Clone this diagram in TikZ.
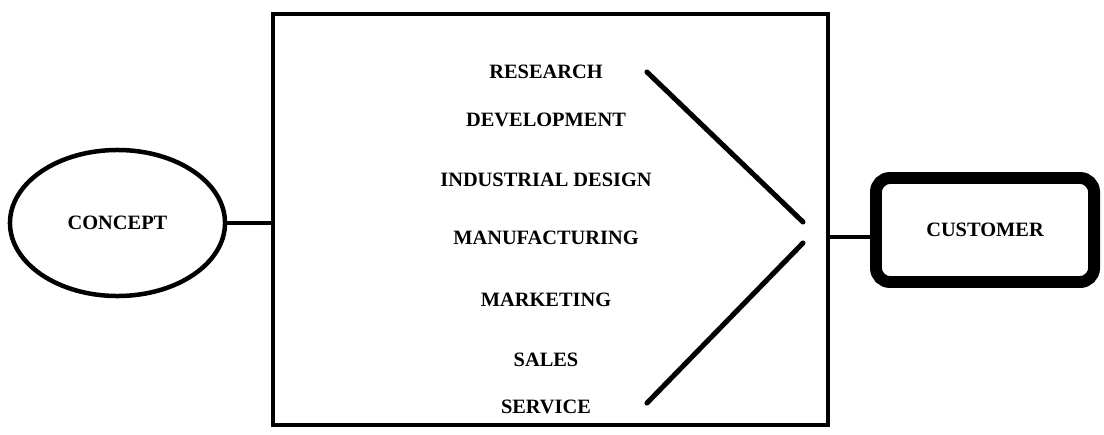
\documentclass[tikz,border=0pt]{standalone}
\usepackage{fontspec}
\setmainfont{Liberation Serif}
\usetikzlibrary{shapes.geometric,positioning}
\tikzset{
  stagetext/.style={font=\fontsize{14.5}{17}\selectfont\bfseries,inner sep=0pt},
  link/.style={line width=2.8pt},
  slant/.style={line width=3.6pt,line cap=round},
}

\begin{document}
\begin{tikzpicture}[x=0.025cm,y=-0.025cm]
    \useasboundingbox (0,0) rectangle (1104,434);

    \node[ellipse,draw,line width=3.2pt,minimum width=5.375cm,minimum height=3.65cm,stagetext] (concept) at (117.5,223) {CONCEPT};
    \node[draw,line width=2.8pt,minimum width=13.875cm,minimum height=10.275cm,inner sep=0pt] (org) at (550.5,219.5) {};
    \node[draw,rounded corners=3.5mm,line width=8.5pt,minimum width=5.45cm,minimum height=2.6cm,stagetext] (customer) at (985,230) {CUSTOMER};

    \node[stagetext] (research) at (546,72) {RESEARCH};
    \node[stagetext] (development) at (546,120) {DEVELOPMENT};
    \node[stagetext] (design) at (546,180) {INDUSTRIAL DESIGN};
    \node[stagetext] (manufacturing) at (546,238) {MANUFACTURING};
    \node[stagetext] (marketing) at (546,300) {MARKETING};
    \node[stagetext] (sales) at (546,360) {SALES};
    \node[stagetext] (service) at (546,407) {SERVICE};

    \coordinate (topstart) at (647,72);
    \coordinate (topend) at (803,222);
    \coordinate (botstart) at (803,243);
    \coordinate (botend) at (647,403);
    \draw[slant] (topstart) -- (topend);
    \draw[slant] (botstart) -- (botend);

    \draw[link] (concept.east) -- (concept.east -| org.west);
    \draw[link] ([yshift=-0.175cm]customer.west) -- ([yshift=-0.175cm]customer.west -| org.east);
  \end{tikzpicture}
\end{document}
